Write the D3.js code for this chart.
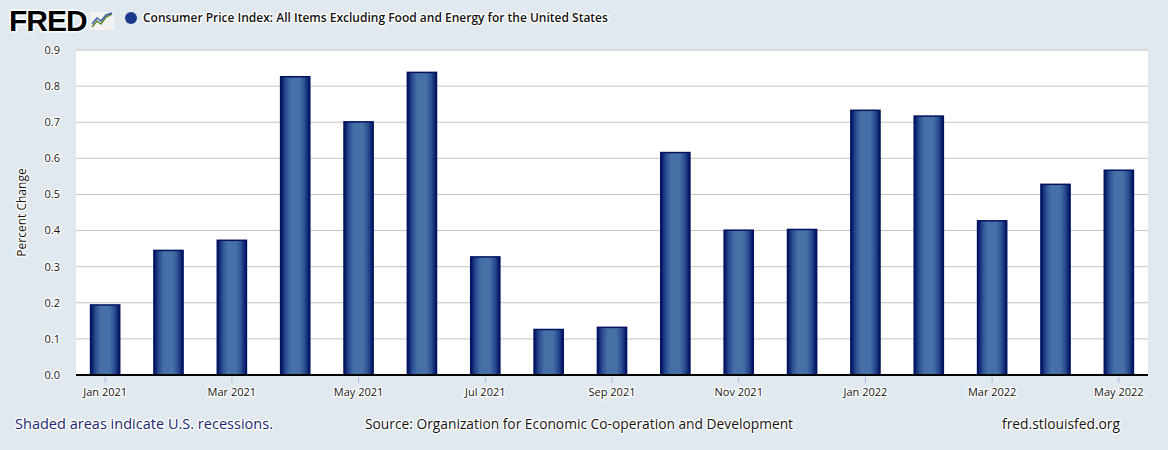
<!DOCTYPE html>
<html>
<head>
<meta charset="utf-8">
<script src="https://cdn.jsdelivr.net/npm/d3@7"></script>
<style>
  body { margin: 0; background: #e1e9f0; }
  text { paint-order: stroke; stroke: #ffffff; stroke-width: 2.5px; stroke-linejoin: round; }
</style>
</head>
<body>
<div id="chart"></div>
<script>
const months = ['Jan 2021', 'Feb 2021', 'Mar 2021', 'Apr 2021', 'May 2021', 'Jun 2021', 'Jul 2021', 'Aug 2021',
  'Sep 2021', 'Oct 2021', 'Nov 2021', 'Dec 2021', 'Jan 2022', 'Feb 2022', 'Mar 2022', 'Apr 2022', 'May 2022'];
const values = [0.194, 0.345, 0.373, 0.826, 0.701, 0.838, 0.327, 0.126, 0.132, 0.616, 0.401, 0.403,
  0.733, 0.717, 0.427, 0.528, 0.567];
const xTickLabels = ['Jan 2021', 'Mar 2021', 'May 2021', 'Jul 2021', 'Sep 2021', 'Nov 2021', 'Jan 2022', 'Mar 2022', 'May 2022'];
const yTicks = [0, 0.1, 0.2, 0.3, 0.4, 0.5, 0.6, 0.7, 0.8, 0.9];

const width = 1168, height = 450;
const plot = { left: 76, right: 1148, top: 50, bottom: 375 };

const svg = d3.select('#chart').append('svg')
  .attr('width', width)
  .attr('height', height)
  .style('font-family', '"Open Sans", sans-serif');

// bar gradient: dark navy edges, steel blue middle
const defs = svg.append('defs');
const grad = defs.append('linearGradient').attr('id', 'barGrad')
  .attr('x1', '0%').attr('x2', '100%').attr('y1', '0%').attr('y2', '0%');
[['0%', '#001060'], ['18%', '#2c4f93'], ['35%', '#4670a6'], ['65%', '#4670a6'], ['82%', '#2c4f93'], ['100%', '#001060']]
  .forEach(s => grad.append('stop').attr('offset', s[0]).attr('stop-color', s[1]));

// background
svg.append('rect').attr('width', width).attr('height', height).attr('fill', '#e1e9f0');
svg.append('rect')
  .attr('x', plot.left).attr('y', plot.top)
  .attr('width', plot.right - plot.left).attr('height', plot.bottom - plot.top)
  .attr('fill', '#ffffff');

const x = d3.scalePoint().domain(months).range([plot.left, plot.right]).padding(0.46);
const y = d3.scaleLinear().domain([0, 0.9]).range([plot.bottom, plot.top]);
const barW = x.step() * 0.46;

// grid
svg.append('g').selectAll('line')
  .data(yTicks.slice(1))
  .enter().append('line')
  .attr('x1', plot.left).attr('x2', plot.right)
  .attr('y1', d => y(d)).attr('y2', d => y(d))
  .attr('stroke', '#c4c4c4').attr('stroke-width', 1);

// y labels
svg.append('g').selectAll('text')
  .data(yTicks)
  .enter().append('text')
  .attr('x', 60).attr('y', d => y(d))
  .attr('dy', '0.35em')
  .attr('text-anchor', 'end')
  .style('font-size', '11px')
  .style('fill', '#111')
  .text(d => d.toFixed(1));

svg.append('text')
  .attr('transform', `translate(26, ${(plot.top + plot.bottom) / 2}) rotate(-90)`)
  .attr('text-anchor', 'middle')
  .style('font-size', '12px')
  .style('fill', '#111')
  .text('Percent Change');

// bars
svg.append('g').selectAll('rect')
  .data(values)
  .enter().append('rect')
  .attr('x', (d, i) => x(months[i]) - barW / 2)
  .attr('y', d => y(d))
  .attr('width', barW)
  .attr('height', d => y(0) - y(d))
  .attr('fill', 'url(#barGrad)')
  .attr('stroke', '#00135f')
  .attr('stroke-width', 1.5);

// x axis line
svg.append('line')
  .attr('x1', plot.left).attr('x2', plot.right)
  .attr('y1', plot.bottom).attr('y2', plot.bottom)
  .attr('stroke', '#000').attr('stroke-width', 2);

const xt = svg.append('g').selectAll('g')
  .data(xTickLabels)
  .enter().append('g')
  .attr('transform', d => `translate(${x(d)},${plot.bottom})`);
xt.append('line').attr('y1', 2).attr('y2', 8).attr('stroke', '#a8bde0');
xt.append('text')
  .attr('y', 21)
  .attr('text-anchor', 'middle')
  .style('font-size', '11px')
  .style('fill', '#111')
  .text(d => d);

// FRED logo
svg.append('text')
  .attr('x', 9).attr('y', 31)
  .style('font-family', '"Liberation Sans", Arial, sans-serif')
  .style('font-size', '30px')
  .style('font-weight', 900)
  .style('letter-spacing', '-1px')
  .style('fill', '#000')
  .style('stroke-width', '3px')
  .text('FRED');
const logo = svg.append('g').attr('transform', 'translate(90,12)');
logo.append('rect').attr('width', 24).attr('height', 18).attr('fill', '#f2f2f2');
const iconLine = d3.line();
logo.append('path').attr('d', iconLine([[2, 15], [7, 9], [11, 12], [16, 5], [22, 2]]))
  .attr('fill', 'none').attr('stroke', '#5a8a2a').attr('stroke-width', 1.5);
logo.append('path').attr('d', iconLine([[2, 12], [7, 6], [11, 9], [16, 3], [22, 1]]))
  .attr('fill', 'none').attr('stroke', '#3a5fa8').attr('stroke-width', 1.5);

// legend
svg.append('circle').attr('cx', 131).attr('cy', 18).attr('r', 6).attr('fill', '#1c3a8c');
svg.append('text')
  .attr('x', 143).attr('y', 22)
  .style('font-size', '12px')
  .style('font-weight', 600)
  .style('fill', '#111')
  .text('Consumer Price Index: All Items Excluding Food and Energy for the United States');

// footer
const foot = [
  { t: 'Shaded areas indicate U.S. recessions.', x: 15, w: 258, c: '#1a2770' },
  { t: 'Source: Organization for Economic Co-operation and Development', x: 365, w: 428, c: '#111' },
  { t: 'fred.stlouisfed.org', x: 1002, w: 118, c: '#111' }
];
svg.append('g').selectAll('text')
  .data(foot)
  .enter().append('text')
  .attr('x', d => d.x).attr('y', 429)
  .attr('textLength', d => d.w)
  .attr('lengthAdjust', 'spacingAndGlyphs')
  .style('font-size', '14px')
  .style('fill', d => d.c)
  .text(d => d.t);
</script>
</body>
</html>
